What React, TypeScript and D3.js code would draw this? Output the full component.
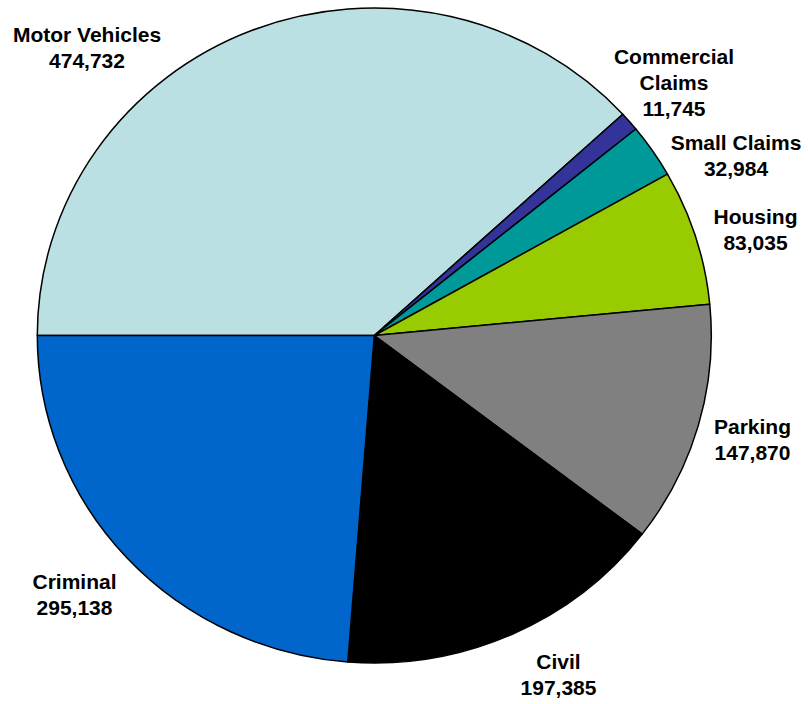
import React from "react";
import * as d3 from "d3";

const categories = ["Motor Vehicles", "Commercial Claims", "Small Claims", "Housing", "Parking", "Civil", "Criminal"];
const values = [474732, 11745, 32984, 83035, 147870, 197385, 295138];
const labelLines = [
  ["Motor Vehicles", "474,732"],
  ["Commercial", "Claims", "11,745"],
  ["Small Claims", "32,984"],
  ["Housing", "83,035"],
  ["Parking", "147,870"],
  ["Civil", "197,385"],
  ["Criminal", "295,138"],
];
const colors = ["#BAE0E3", "#333399", "#009999", "#99CC00", "#808080", "#000000", "#0066CC"];

// label layout: center x, first baseline y
const labelPos: [number, number][] = [
  [87, 41.5],
  [674, 63.5],
  [736, 149.5],
  [755.5, 223.5],
  [752.5, 433.5],
  [558.5, 668.5],
  [74.5, 588.5],
];

const W = 808;
const H = 704;
const cx = 374.3;
const cy = 335.5;
const rx = 337;
const ry = 327.5;
const lineH = 26.2;

export default function App() {
  const data = categories.map((c, i) => ({ c, v: values[i], i }));
  const pie = d3
    .pie<{ c: string; v: number; i: number }>()
    .sort(null)
    .value((d) => d.v)
    .startAngle(-Math.PI / 2)
    .endAngle((3 * Math.PI) / 2);
  const arcs = pie(data);
  const arc = d3.arc<d3.PieArcDatum<{ c: string; v: number; i: number }>>().innerRadius(0).outerRadius(rx);

  return (
    <svg
      width={W}
      height={H}
      style={{ position: "absolute", left: 0, top: 0, background: "#fff" }}
      fontFamily="'Liberation Sans', Arial, sans-serif"
    >
      <g transform={`translate(${cx},${cy}) scale(1,${ry / rx})`}>
        {arcs.map((a) => (
          <path
            key={a.data.c}
            d={arc(a) || ""}
            fill={colors[a.data.i]}
            stroke="#000"
            strokeWidth={1.5}
            vectorEffect="non-scaling-stroke"
            strokeLinejoin="round"
          />
        ))}
      </g>
      {labelLines.map((lines, i) => (
        <text
          key={categories[i]}
          x={labelPos[i][0]}
          y={labelPos[i][1]}
          textAnchor="middle"
          fontSize={21}
          fontWeight="bold"
          fill="#000"
        >
          {lines.map((l, j) => (
            <tspan key={j} x={labelPos[i][0]} y={labelPos[i][1] + j * lineH}>
              {l}
            </tspan>
          ))}
        </text>
      ))}
    </svg>
  );
}
